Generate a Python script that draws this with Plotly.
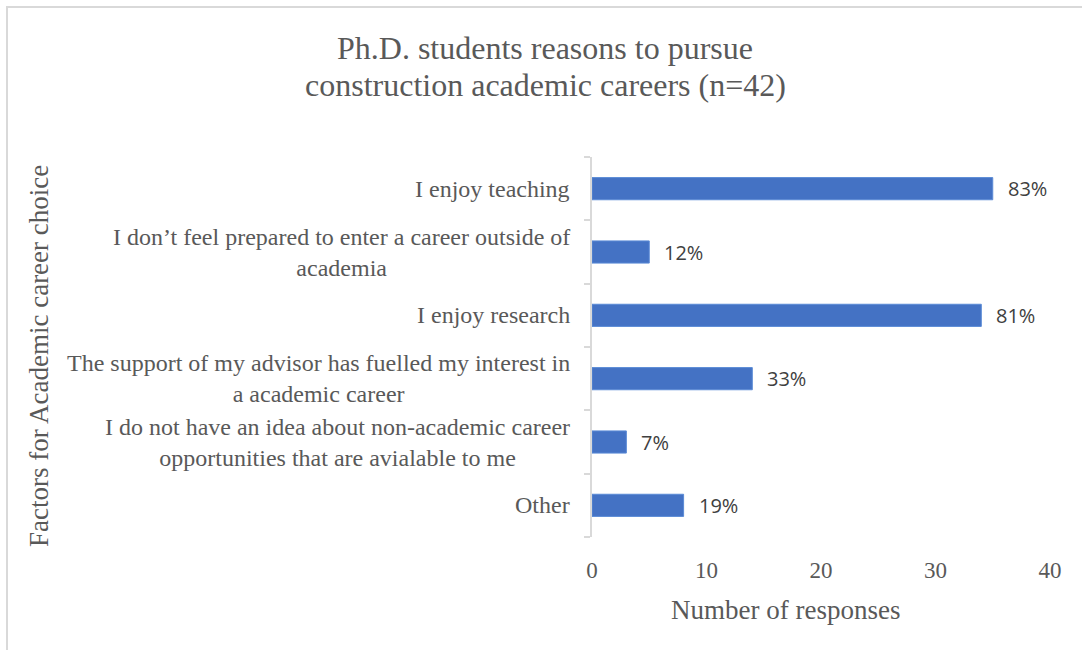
import plotly.graph_objects as go

# Survey responses (n = 42), listed top to bottom
categories = [
    "I enjoy teaching",
    "I don’t feel prepared to enter a career outside of<br>academia",
    "I enjoy research",
    "The support of my advisor has fuelled my interest in<br>a academic career",
    "I do not have an idea about non-academic career<br>opportunities that are avialable to me",
    "Other",
]
responses = [35, 5, 34, 14, 3, 8]
n_total = 42
x_ticks = [0, 10, 20, 30, 40]
title_lines = ["Ph.D. students reasons to pursue", "construction academic careers (n=42)"]

percent_labels = [f"{round(v / n_total * 100)}%" for v in responses]

serif = "Liberation Serif, Times New Roman, serif"
grey = "#595959"

# plot-area geometry in pixels, used to place page-level text in paper units
PLOT_L, PLOT_R, PLOT_T, PLOT_B = 592, 1050, 157, 537


def px_to_paper_x(px):
    return (px - PLOT_L) / (PLOT_R - PLOT_L)


def px_to_paper_y(py):
    return (PLOT_B - py) / (PLOT_B - PLOT_T)


fig = go.Figure(
    go.Bar(
        x=responses,
        y=categories,
        orientation="h",
        marker=dict(color="#4472C4", line=dict(color="#5B8BD6", width=1)),
        hoverinfo="skip",
    )
)

# value labels to the right of each bar
for v, c, t in zip(responses, categories, percent_labels):
    fig.add_annotation(
        x=v, y=c, xref="x", yref="y", text=t, showarrow=False,
        xanchor="left", xshift=13,
        font=dict(family="Open Sans, Liberation Sans, sans-serif", size=20, color="#404040"),
    )

# category labels, centred line by line
for c in categories:
    fig.add_annotation(
        x=0, y=c, xref="paper", yref="y", text=c, showarrow=False,
        xanchor="right", xshift=-20, align="center",
        font=dict(family=serif, size=24, color=grey),
    )

# chart title, two lines with tight leading
for yc, line in zip([48, 85], title_lines):
    fig.add_annotation(
        x=px_to_paper_x(545), y=px_to_paper_y(yc), xref="paper", yref="paper", text=line,
        showarrow=False, xanchor="center", yanchor="middle",
        font=dict(family=serif, size=32, color=grey),
    )

# axis titles
fig.add_annotation(
    x=px_to_paper_x(785), y=px_to_paper_y(610), xref="paper", yref="paper",
    text="Number of responses",
    showarrow=False, xanchor="center", yanchor="middle",
    font=dict(family=serif, size=27, color=grey),
)
fig.add_annotation(
    x=px_to_paper_x(39), y=px_to_paper_y(356), xref="paper", yref="paper",
    text="Factors for Academic career choice",
    showarrow=False, textangle=-90, xanchor="center", yanchor="middle",
    font=dict(family=serif, size=27, color=grey),
)

# chart frame
fig.add_shape(
    type="rect", xref="paper", yref="paper",
    x0=px_to_paper_x(7), x1=px_to_paper_x(1100),
    y0=px_to_paper_y(680), y1=px_to_paper_y(7),
    line=dict(color="#D9D9D9", width=2), fillcolor="rgba(0,0,0,0)", layer="below",
)

fig.update_layout(
    width=1082, height=650,
    margin=dict(l=PLOT_L, r=1082 - PLOT_R, t=PLOT_T, b=650 - PLOT_B),
    paper_bgcolor="white", plot_bgcolor="white",
    bargap=0.65,
    showlegend=False,
    xaxis=dict(
        range=[0, 40], tickvals=x_ticks, showgrid=False, zeroline=False,
        showline=False, ticks="outside", ticklen=12, tickcolor="rgba(0,0,0,0)",
        tickfont=dict(family=serif, size=23, color=grey),
        fixedrange=True,
    ),
    yaxis=dict(
        categoryorder="array", categoryarray=categories[::-1],
        showticklabels=False, showgrid=False, zeroline=False,
        showline=True, linecolor="#D9D9D9", linewidth=2,
        ticks="outside", ticklen=6, tickcolor="#D9D9D9", tickwidth=2,
        tickson="boundaries",
        fixedrange=True,
    ),
)

fig.write_html("out.html")
